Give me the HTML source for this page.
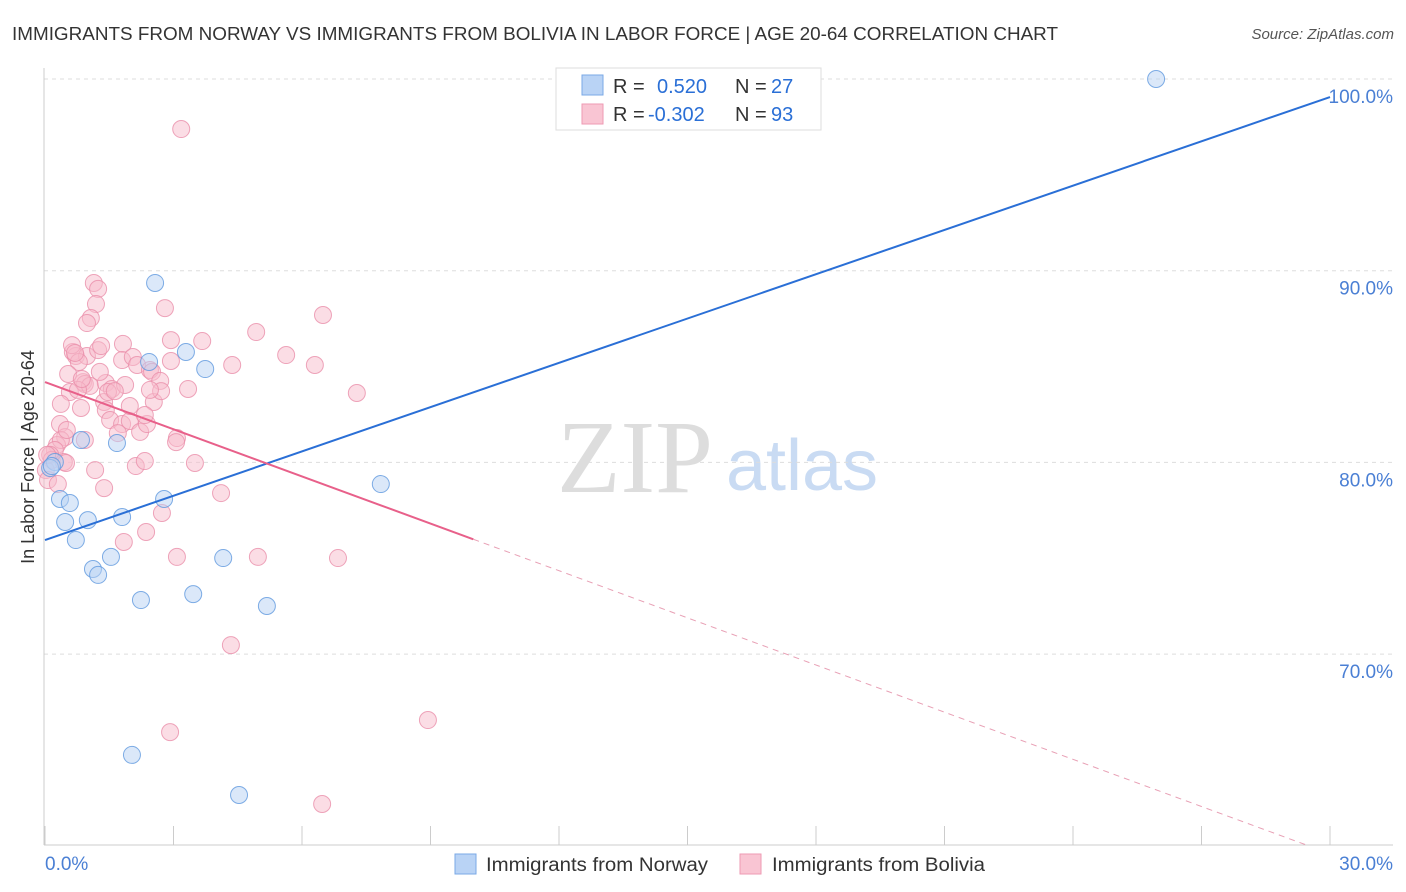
<!DOCTYPE html>
<html><head><meta charset="utf-8"><style>
body{margin:0;background:#fff;font-family:"Liberation Sans",sans-serif;}
svg{display:block}
</style></head><body>
<svg id="chart" width="1406" height="892">
<text x="12" y="40" font-size="18" fill="#333" textLength="1046" lengthAdjust="spacingAndGlyphs">IMMIGRANTS FROM NORWAY VS IMMIGRANTS FROM BOLIVIA IN LABOR FORCE | AGE 20-64 CORRELATION CHART</text>
<text x="1394" y="39" font-size="15" fill="#555" font-style="italic" text-anchor="end">Source: ZipAtlas.com</text>
<text x="635" y="492" font-size="104" fill="#ddd" font-family="Liberation Serif,serif" text-anchor="middle">ZIP</text>
<text x="802" y="490" font-size="72" fill="#c9dbf3" text-anchor="middle">atlas</text>
<text transform="translate(34,457) rotate(-90)" font-size="18" fill="#333" text-anchor="middle">In Labor Force | Age 20-64</text>
<g id="grid"></g><g id="marks"></g>
<g>
<rect x="556" y="68" width="265" height="62" fill="#fff" stroke="#ddd"/>
<rect x="582" y="75" width="21" height="20" fill="#b9d3f5" stroke="#7aa8e6"/>
<rect x="582" y="104" width="21" height="20" fill="#f9c5d3" stroke="#ee9ab3"/>
<text x="613" y="93" font-size="20" fill="#333">R =</text>
<text x="657" y="93" font-size="20" fill="#2a6fd6">0.520</text>
<text x="735" y="93" font-size="20" fill="#333">N =</text>
<text x="771" y="93" font-size="20" fill="#2a6fd6">27</text>
<text x="613" y="121" font-size="20" fill="#333">R =</text>
<text x="648" y="121" font-size="20" fill="#2a6fd6">-0.302</text>
<text x="735" y="121" font-size="20" fill="#333">N =</text>
<text x="771" y="121" font-size="20" fill="#2a6fd6">93</text>
</g>
<g>
<rect x="455" y="854" width="21" height="20" fill="#b9d3f5" stroke="#7aa8e6"/>
<text x="486" y="871" font-size="19" fill="#333" textLength="222" lengthAdjust="spacingAndGlyphs">Immigrants from Norway</text>
<rect x="740" y="854" width="21" height="20" fill="#f9c5d3" stroke="#ee9ab3"/>
<text x="772" y="871" font-size="19" fill="#333" textLength="213" lengthAdjust="spacingAndGlyphs">Immigrants from Bolivia</text>
</g>
</svg>
<script>
const yTicks=[70,80,90,100];
const xTickLabels=["0.0%","30.0%"];
const norwayX=[25.94,2.57,3.29,2.43,3.74,0.84,1.68,7.84,0.23,0.12,0.35,0.58,2.78,0.47,1.00,1.80,0.72,1.54,4.16,1.12,1.24,2.24,3.46,5.18,2.03,4.53,0.16];
const norwayY=[100.0,89.36,85.76,85.24,84.87,81.17,81.01,78.87,80.02,79.71,78.09,77.88,78.09,76.89,76.99,77.15,75.95,75.07,75.01,74.44,74.13,72.82,73.13,72.51,64.74,62.65,79.81];
const boliviaX=[3.18,1.14,1.24,1.19,2.80,1.07,0.98,6.49,4.93,2.94,3.67,1.82,0.65,0.72,0.98,1.24,1.31,5.63,6.30,4.37,2.94,1.80,2.05,2.15,2.45,2.50,0.79,0.54,0.89,0.93,1.05,1.42,1.56,1.87,2.69,3.34,7.28,0.58,0.77,0.37,0.84,1.38,1.47,1.63,2.54,2.71,1.42,1.52,1.80,1.98,2.22,2.38,0.35,0.47,0.28,0.37,3.08,3.06,0.23,0.12,0.16,0.44,0.49,0.02,0.07,1.38,2.12,2.33,3.50,4.11,2.73,1.84,2.36,3.08,4.97,6.84,4.34,2.92,8.94,6.47,0.63,0.70,0.86,0.51,0.05,0.93,1.17,1.98,1.70,1.28,0.30,2.33,2.45];
const boliviaY=[97.39,89.36,89.05,88.26,88.05,87.53,87.27,87.69,86.80,86.38,86.33,86.18,85.76,85.55,85.55,85.86,86.07,85.60,85.08,85.08,85.29,85.34,85.50,85.08,84.82,84.72,85.24,84.61,84.19,84.09,83.99,84.14,83.83,84.04,84.25,83.83,83.62,83.67,83.78,83.05,82.84,83.15,83.67,83.72,83.15,83.72,82.73,82.21,82.00,82.16,81.59,82.00,82.00,81.32,80.91,81.17,81.27,81.06,80.65,80.39,80.13,80.02,79.97,79.60,79.08,78.66,79.81,80.07,79.97,78.40,77.36,75.85,76.37,75.07,75.07,75.01,70.47,65.93,66.56,62.18,86.12,85.71,84.35,81.69,80.39,81.17,79.60,82.94,81.53,84.72,78.87,82.47,83.78];
const norwayTrend=[75.95,99.06];
const boliviaTrend=[84.19,-0.82];
const NS="http://www.w3.org/2000/svg";
const sx=v=>45+v*1285/30;
const sy=v=>79+(100-v)*19.17;
function mk(tag,attrs,parent){const e=document.createElementNS(NS,tag);for(const k in attrs)e.setAttribute(k,attrs[k]);parent.appendChild(e);return e;}
const grid=document.getElementById('grid'),marks=document.getElementById('marks');
yTicks.forEach(t=>{
 const l=mk('line',{x1:44,x2:1393,y1:sy(t),y2:sy(t),stroke:'#ddd','stroke-dasharray':'4,4'},grid);
 
 
 const tx=mk('text',{x:1393,y:sy(t)+24,'font-size':19,fill:'#4a7fd4','text-anchor':'end'},grid);
 tx.textContent=t.toFixed(1)+'%';
 
 
});
const ax=mk('line',{x1:44,x2:44,y1:68,y2:845,stroke:'#ccc'},grid);


const bx=mk('line',{x1:44,x2:1393,y1:845,y2:845,stroke:'#ccc'},grid);


for(let i=0;i<=10;i++){
 const t=mk('line',{x1:sx(i*3),x2:sx(i*3),y1:826,y2:845,stroke:'#ccc'},grid);
 
 
}
xTickLabels.forEach((s,i)=>{
 const t=mk('text',{x:i?1393:45,y:870,'font-size':19,fill:'#4a7fd4','text-anchor':i?'end':'start'},grid);
 t.textContent=s;
 
 
});
function dots(X,Y,fill,stroke,name){
 X.forEach((x,i)=>{
  const c=mk('circle',{cx:sx(x),cy:sy(Y[i]),r:8.5,fill:fill,'fill-opacity':0.5,stroke:stroke,'stroke-opacity':0.8,'stroke-width':1},marks);
  
  
 });
}
dots(boliviaX,boliviaY,'#f7bccb','#ea8eaa','bolivia-point');
dots(norwayX,norwayY,'#b7d1f3','#5f98de','norway-point');
const nl=mk('line',{x1:sx(0),y1:sy(norwayTrend[0]),x2:sx(30),y2:sy(norwayTrend[1]),stroke:'#2a6fd6','stroke-width':2},marks);


const bf=x=>boliviaTrend[0]+boliviaTrend[1]*x;
const bl=mk('line',{x1:sx(0),y1:sy(bf(0)),x2:sx(10),y2:sy(bf(10)),stroke:'#e8608a','stroke-width':2},marks);


const xe=(60-boliviaTrend[0])/boliviaTrend[1];
const bd=mk('line',{x1:sx(10),y1:sy(bf(10)),x2:sx(xe),y2:sy(60),stroke:'#e8a0b5','stroke-width':1,'stroke-dasharray':'6,5'},marks);


</script>
</body></html>
